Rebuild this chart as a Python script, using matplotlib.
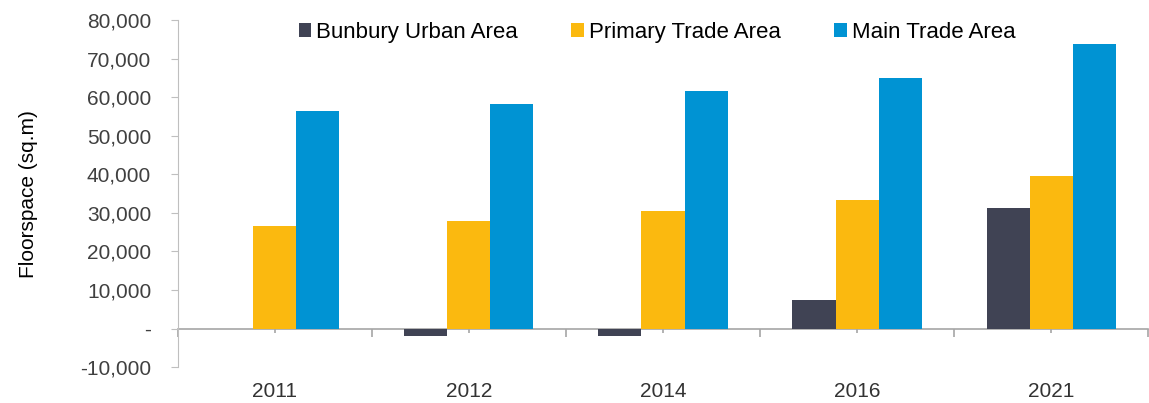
import matplotlib.pyplot as plt
import numpy as np
from matplotlib.ticker import FuncFormatter

plt.rcParams['font.family'] = ['Liberation Sans', 'DejaVu Sans']

years = ["2011", "2012", "2014", "2016", "2021"]
bunbury = [0, -2000, -2000, 7500, 31300]
primary = [26700, 28000, 30600, 33300, 39500]
main = [56500, 58200, 61700, 65100, 73700]

series = [("Bunbury Urban Area", bunbury, "#404354"),
          ("Primary Trade Area", primary, "#FBB90F"),
          ("Main Trade Area", main, "#0093D3")]

fig = plt.figure(figsize=(11.49, 4.03), dpi=100)
ax = fig.add_axes([0.1545, 0.089, 0.845, 0.861])

x = np.arange(len(years))
w = 0.222
for i, (name, vals, col) in enumerate(series):
    ax.bar(x + (i - 1) * w, vals, w, color=col, label=name, zorder=2)

ax.set_xlim(-0.5, len(years) - 0.5)
ax.set_ylim(-10000, 80000)
ax.set_yticks(np.arange(-10000, 80001, 10000))
ax.yaxis.set_major_formatter(FuncFormatter(lambda v, p: "-" if v == 0 else f"{v:,.0f}"))
ax.set_xticks(x)
ax.set_xticklabels(years)
ax.tick_params(axis="x", length=0, pad=11, labelsize=15, labelcolor="#333333")
ax.tick_params(axis="y", length=5, color="#bfbfbf", labelsize=15, labelcolor="#404040", pad=14)

for s in ["top", "right", "bottom"]:
    ax.spines[s].set_visible(False)
ax.spines["left"].set_color("#bfbfbf")

# zero line with category ticks
zero = ax.secondary_xaxis(1 / 9)
zero.set_xticks(np.arange(len(years) + 1) - 0.5, labels=[])
zero.set_xticks(x, minor=True)
zero.tick_params(which="major", length=6, width=1.2, color="#a6a6a6")
zero.tick_params(which="minor", length=3, width=1.2, color="#a6a6a6")
zero.spines["bottom"].set_color("#a6a6a6")
zero.spines["bottom"].set_linewidth(1.2)
zero.spines["bottom"].set_zorder(3)

ax.set_ylabel("Floorspace (sq.m)", fontsize=15, color="#000000", labelpad=30)

fig.legend(*ax.get_legend_handles_labels(), loc="center", bbox_to_anchor=(0.572, 0.92),
           ncol=3, frameon=False, fontsize=16, handlelength=0.55, handleheight=0.55,
           handletextpad=0.25, columnspacing=2.4)

fig.savefig("out.png", dpi=100)
